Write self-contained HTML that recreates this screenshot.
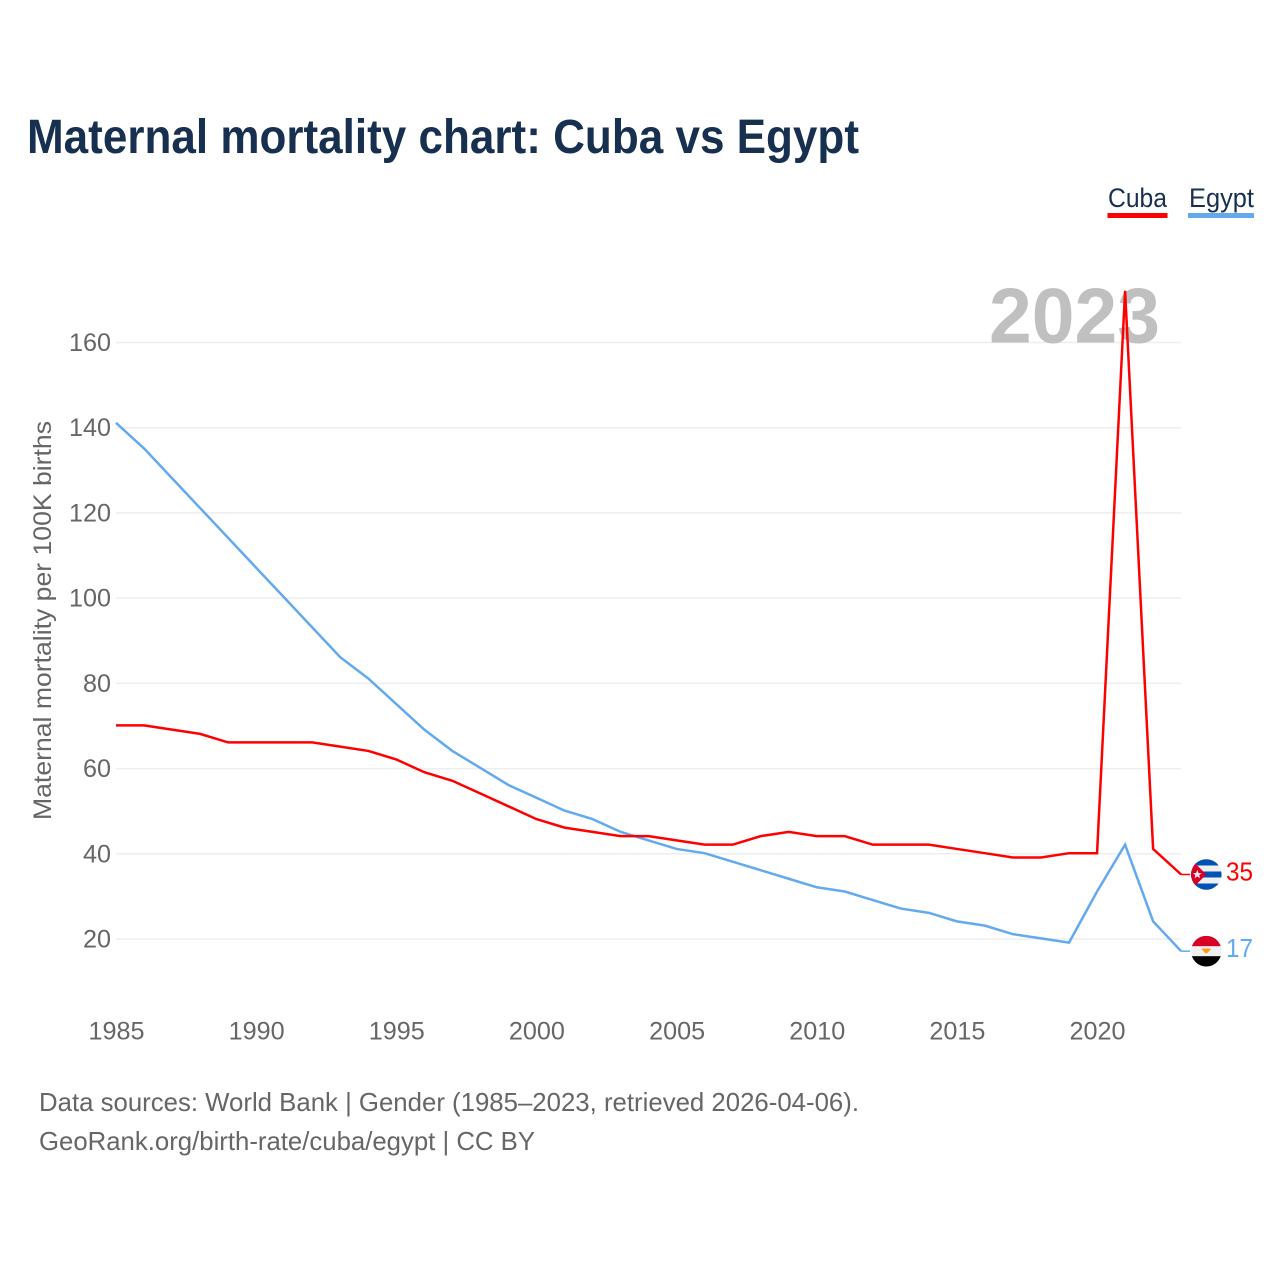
<!DOCTYPE html>
<html lang="en">
<head>
<meta charset="utf-8">
<title>Maternal mortality chart: Cuba vs Egypt</title>
<style>
html,body{margin:0;padding:0;background:#fff;}
svg{display:block;}
text{font-family:"Liberation Sans",sans-serif;}
</style>
</head>
<body>
<svg id="chart" xmlns="http://www.w3.org/2000/svg" width="1280" height="1280" viewBox="0 0 1280 1280">
  <rect x="0" y="0" width="1280" height="1280" fill="#ffffff"/>
  <text x="27" y="153" font-size="48" font-weight="bold" fill="#18304f" textLength="832" lengthAdjust="spacingAndGlyphs">Maternal mortality chart: Cuba vs Egypt</text>

  <g>
    <text x="1108" y="207" font-size="27" fill="#18304f" textLength="59" lengthAdjust="spacingAndGlyphs">Cuba</text>
    <rect x="1107.5" y="213" width="60" height="5" fill="#ff0000"/>
  </g>
  <g>
    <text x="1189" y="207" font-size="27" fill="#18304f" textLength="65" lengthAdjust="spacingAndGlyphs">Egypt</text>
    <rect x="1188" y="213" width="66" height="5" fill="#63a9ee"/>
  </g>

  <g id="grid"></g>
  <text x="989" y="342.5" font-size="78" font-weight="bold" fill="#c0c0c0" textLength="171" lengthAdjust="spacingAndGlyphs">2023</text>
  <g id="yticks"></g>
  <g id="xticks"></g>
  <text transform="translate(51,820) rotate(-90)" x="0" y="0" font-size="25" fill="#666666" textLength="399" lengthAdjust="spacingAndGlyphs">Maternal mortality per 100K births</text>
  <g id="series"></g>

  <defs>
    <clipPath id="flag-clip"><circle cx="0" cy="0" r="15.3"/></clipPath>
  </defs>
  <g id="flag-cuba">
    <g clip-path="url(#flag-clip)">
      <rect x="-16" y="-16" width="32" height="32" fill="#f0f0f0"/>
      <rect x="-16" y="-16" width="32" height="7" fill="#0052b4"/>
      <rect x="-16" y="-3" width="32" height="6" fill="#0052b4"/>
      <rect x="-16" y="9" width="32" height="7" fill="#0052b4"/>
      <polygon points="-16,-16 0,0 -16,16" fill="#d80027"/>
      <polygon points="-9,-4.6 -7.8,-1.4 -4.6,-1.4 -7.1,0.6 -6.2,3.8 -9,1.9 -11.8,3.8 -10.9,0.6 -13.4,-1.4 -10.2,-1.4" fill="#f0f0f0"/>
    </g>
  </g>
  <g id="flag-egypt">
    <g clip-path="url(#flag-clip)">
      <rect x="-16" y="-16" width="32" height="32" fill="#f0f0f0"/>
      <rect x="-16" y="-16" width="32" height="11" fill="#d80027"/>
      <rect x="-16" y="5" width="32" height="11" fill="#000000"/>
      <polygon points="-5,-2.5 5,-2.5 2,1 0,2.5 -2,1" fill="#ff9811"/>
    </g>
  </g>

  <text x="39" y="1111" font-size="26" fill="#666666" textLength="820" lengthAdjust="spacingAndGlyphs">Data sources: World Bank | Gender (1985–2023, retrieved 2026-04-06).</text>
  <text x="39" y="1150" font-size="26" fill="#666666" textLength="496" lengthAdjust="spacingAndGlyphs">GeoRank.org/birth-rate/cuba/egypt | CC BY</text>
</svg>
<script>
const years = [1985,1986,1987,1988,1989,1990,1991,1992,1993,1994,1995,1996,1997,1998,1999,2000,2001,2002,2003,2004,2005,2006,2007,2008,2009,2010,2011,2012,2013,2014,2015,2016,2017,2018,2019,2020,2021,2022,2023];
const cubaValues = [70,70,69,68,66,66,66,66,65,64,62,59,57,54,51,48,46,45,44,44,43,42,42,44,45,44,44,42,42,42,41,40,39,39,40,40,172,41,35];
const egyptValues = [141,135,128,121,114,107,100,93,86,81,75,69,64,60,56,53,50,48,45,43,41,40,38,36,34,32,31,29,27,26,24,23,21,20,19,31,42,24,17];
const yTickValues = [20,40,60,80,100,120,140,160];
const xTickValues = [1985,1990,1995,2000,2005,2010,2015,2020];

const NS = 'http://www.w3.org/2000/svg';
function xScale(year){ return 116 + (year - 1985) * 28.03; }
function yScale(v){ return 939 - (v - 20) * 4.2607; }
function lineY(v){ return yScale(v) - 0.6; }
function make(tag, attrs, parent){
  const el = document.createElementNS(NS, tag);
  for (const k in attrs) el.setAttribute(k, attrs[k]);
  parent.appendChild(el);
  return el;
}
const gridG = document.getElementById('grid');
const yG = document.getElementById('yticks');
const xG = document.getElementById('xticks');
const seriesG = document.getElementById('series');

yTickValues.forEach(function(v){
  const line = make('line', {x1:116, x2:1181, y1:yScale(v), y2:yScale(v), stroke:'#eeeeee', 'stroke-width':1.5}, gridG);
  
  
  const s = String(v);
  const t = make('text', {x:111, y:yScale(v)+8.5, 'text-anchor':'end', 'font-size':25, fill:'#666666', textLength:s.length*14, lengthAdjust:'spacingAndGlyphs'}, yG);
  
  
  t.textContent = s;
});
xTickValues.forEach(function(y){
  const s = String(y);
  const t = make('text', {x:xScale(y)+0.5, y:1039.5, 'text-anchor':'middle', 'font-size':25, fill:'#666666', textLength:56, lengthAdjust:'spacingAndGlyphs'}, xG);
  
  
  t.textContent = s;
});
function drawSeries(values, color, name, flagId){
  const pts = values.map(function(v, i){ return xScale(years[i]).toFixed(2) + ',' + lineY(v).toFixed(2); }).join(' ');
  const line = make('polyline', {points:pts, fill:'none', stroke:color, 'stroke-width':2.5, 'stroke-linejoin':'miter', 'stroke-miterlimit':10}, seriesG);
  
  
  const last = values[values.length - 1];
  const lx = xScale(years[years.length - 1]);
  const ly = lineY(last);
  const conn = make('line', {x1:lx, x2:lx + 9, y1:ly, y2:ly, stroke:color, 'stroke-width':1.5}, seriesG);
  
  
  document.getElementById(flagId).setAttribute('transform', 'translate(1206.3,' + ly + ')');
  const s = String(last);
  const label = make('text', {x:1226, y:ly + 6, 'font-size':25.5, fill:color, textLength:s.length*13.5, lengthAdjust:'spacingAndGlyphs'}, seriesG);
  
  
  label.textContent = s;
}
drawSeries(egyptValues, '#63a9ee', 'egypt', 'flag-egypt');
drawSeries(cubaValues, '#ff0000', 'cuba', 'flag-cuba');
</script>
</body>
</html>
